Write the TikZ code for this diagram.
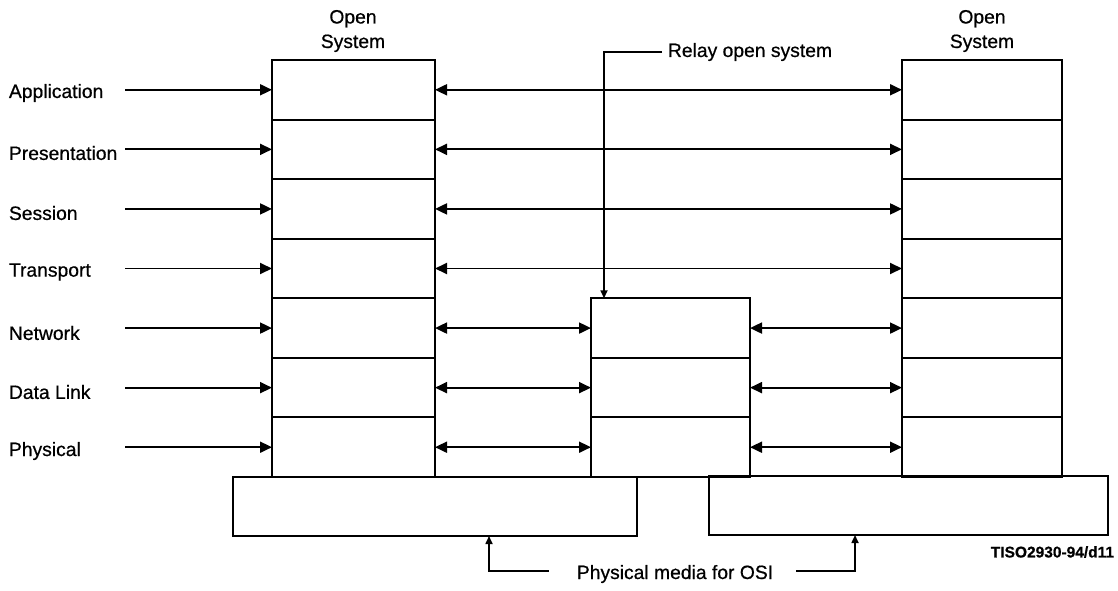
\documentclass[tikz,border=0pt]{standalone}
\usepackage{fontspec}
\setmainfont{Liberation Sans}[FakeBold=0.6]
\usetikzlibrary{arrows.meta}
\begin{document}
\begin{tikzpicture}[x=1pt,y=-1pt,
  line width=1.9pt,
  bigtip/.style={-{Triangle[length=12pt,width=11pt]}},
  dbltip/.style={{Triangle[length=12pt,width=11pt]}-{Triangle[length=12pt,width=11pt]}},
  smalltip/.style={line width=1.6pt,-{Triangle[length=8pt,width=7pt]}},
  layerbox/.style={draw,line width=1.9pt,inner sep=0pt,outer sep=0pt,minimum height=59.57pt},
  mediabox/.style={draw,line width=1.9pt,inner sep=0pt,outer sep=0pt,minimum height=59pt},
  lbl/.style={font=\fontsize{19.3}{23}\selectfont,inner sep=0pt,anchor=west},
  ttl/.style={font=\fontsize{19.3}{24.5}\selectfont,align=center,inner sep=0pt}]
\useasboundingbox (0,0) rectangle (1118,590);

% layers
\foreach \i in {1,...,7}{
  \node[layerbox,minimum width=163pt] (L\i) at (353.5,{60+59.57*(\i-0.5)}) {};
  \node[layerbox,minimum width=160pt] (R\i) at (982,{60+59.57*(\i-0.5)}) {};
}
\foreach \i in {5,6,7}{
  \node[layerbox,minimum width=159pt] (M\i) at (670.5,{60+59.57*(\i-0.5)}) {};
}

% media boxes
\node[mediabox,minimum width=404pt] (PL) at (435,506.5) {};
\node[mediabox,minimum width=399pt] (PR) at (908.5,505.5) {};

% titles
\node[ttl] (t1) at (353,31) {Open\\System};
\node[ttl] (t2) at (982,31) {Open\\System};

% layer labels
\node[lbl] (n1) at (8,93) {Application};
\node[lbl] (n2) at (8,153) {Presentation};
\node[lbl] (n3) at (8,213) {Session};
\node[lbl] (n4) at (8,272) {Transport};
\node[lbl] (n5) at (8,333) {Network};
\node[lbl] (n6) at (8,392) {Data Link};
\node[lbl] (n7) at (8,451) {Physical};

\foreach \i in {1,...,7}{
  \coordinate (s\i) at (125,{60+59.57*(\i-0.5)});
  \draw[bigtip] (s\i) -- (L\i.west);
}

% peer arrows
\foreach \i in {1,...,4}{
  \draw[dbltip] (L\i.east) -- (R\i.west);
}
\foreach \i in {5,6,7}{
  \draw[dbltip] (L\i.east) -- (M\i.west);
  \draw[dbltip] (M\i.east) -- (R\i.west);
}

% relay label
\node[lbl] (rl) at (667,52) {Relay open system};
\coordinate (rc) at (604,52);
\draw[smalltip] ([xshift=-5pt]rl.west |- rc) -- (rc) -- (rc |- M5.north);

% physical media label
\node[lbl,anchor=center] (pm) at (675,574) {Physical media for OSI};
\coordinate (pa) at (489,571);
\coordinate (pb) at (855,571);
\draw[smalltip] ([xshift=-27pt]pm.west |- pa) -- (pa) -- (pa |- PL.south);
\draw[smalltip] ([xshift=22pt]pm.east |- pb) -- (pb) -- (pb |- PR.south);

% figure code
\node[font=\bfseries\fontsize{15.5}{17}\selectfont,inner sep=0pt,anchor=east] (code) at (1115,552) {TISO2930-94/d11};
\end{tikzpicture}
\end{document}
